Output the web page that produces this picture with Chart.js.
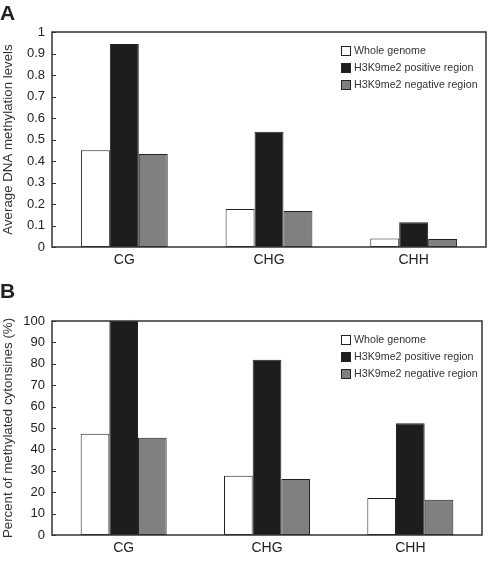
<!DOCTYPE html>
<html>
<head>
<meta charset="utf-8">
<script src="https://cdn.jsdelivr.net/npm/chart.js@4/dist/chart.umd.min.js"></script>
<style>
  body { margin: 0; background: #fff; width: 491px; height: 562px; position: relative; overflow: hidden; font-family: "Liberation Sans", Arial, sans-serif; }
  canvas { position: absolute; left: 0; }
  .panel { position: absolute; left: 0; font-weight: bold; font-size: 21px; line-height: 21px; color: #222; z-index: 2; }
</style>
</head>
<body>
<canvas id="chartA" width="491" height="275" style="top:0px"></canvas>
<canvas id="chartB" width="491" height="282" style="top:280px"></canvas>
<div class="panel" style="top:2px">A</div>
<div class="panel" style="top:280px">B</div>
<script>
const contexts = ['CG', 'CHG', 'CHH'];
const seriesNames = ['Whole genome', 'H3K9me2 positive region', 'H3K9me2 negative region'];
const seriesColors = ['#ffffff', '#1e1c1d', '#808080'];

// panel A: average methylation level
const levelWhole = [0.45, 0.177, 0.04];
const levelPositive = [0.944, 0.536, 0.115];
const levelNegative = [0.433, 0.167, 0.037];

// panel B: percent of methylated cytosines
const pctWhole = [47.3, 27.7, 17.3];
const pctPositive = [100, 81.9, 52.2];
const pctNegative = [45.5, 26.2, 16.5];

const FONT = '"Liberation Sans", Arial, sans-serif';

const frameAndLegend = {
  id: 'frameAndLegend',
  afterDraw(chart) {
    const { ctx, chartArea } = chart;
    const yScale = chart.scales.y;
    ctx.save();
    ctx.strokeStyle = '#333';
    ctx.lineWidth = 1.5;
    ctx.strokeRect(chartArea.left, chartArea.top, chartArea.right - chartArea.left, chartArea.bottom - chartArea.top);

    // short inward tick marks on the value axis
    ctx.lineWidth = 1;
    ctx.beginPath();
    yScale.ticks.forEach((t) => {
      const py = Math.round(yScale.getPixelForValue(t.value)) + 0.5;
      ctx.moveTo(chartArea.left, py);
      ctx.lineTo(chartArea.left + 4, py);
    });
    ctx.stroke();

    ctx.font = '10.7px ' + FONT;
    ctx.textBaseline = 'middle';
    chart.data.datasets.forEach((ds, i) => {
      const y = chartArea.top + 19 + i * 17;
      const x = chartArea.left + 289;
      ctx.fillStyle = ds.backgroundColor;
      ctx.fillRect(x + 0.5, y - 4.5, 9, 9);
      ctx.strokeStyle = '#222';
      ctx.strokeRect(x + 0.5, y - 4.5, 9, 9);
      ctx.fillStyle = '#333';
      ctx.fillText(ds.label, x + 13, y);
    });
    ctx.restore();
  }
};

function makeChart(id, values, yMax, step, yTitle, pad, xHeight) {
  new Chart(document.getElementById(id), {
    type: 'bar',
    data: {
      labels: contexts,
      datasets: values.map((v, i) => ({
        label: seriesNames[i],
        data: v,
        backgroundColor: seriesColors[i],
        borderColor: '#222',
        borderWidth: 1,
        borderSkipped: false,
        barPercentage: 1,
        categoryPercentage: 0.6
      }))
    },
    options: {
      responsive: false,
      devicePixelRatio: 1,
      animation: false,
      layout: { padding: pad },
      plugins: { legend: { display: false }, tooltip: { enabled: false } },
      scales: {
        x: {
          grid: { display: false, drawTicks: false },
          border: { display: false },
          ticks: { color: '#222', font: { family: FONT, size: 14 }, padding: 5 },
          afterFit(scale) { scale.height = xHeight; }
        },
        y: {
          min: 0,
          max: yMax,
          grid: { display: false, drawTicks: false },
          border: { display: false },
          ticks: {
            stepSize: step,
            color: '#222',
            font: { family: FONT, size: 13 },
            padding: 7,
            callback: (v) => String(+v.toFixed(1))
          },
          title: { display: true, text: yTitle, color: '#333', font: { family: FONT, size: 13.3 }, padding: 0 },
          afterFit(scale) { scale.width = 52; }
        }
      }
    },
    plugins: [frameAndLegend]
  });
}

makeChart('chartA', [levelWhole, levelPositive, levelNegative], 1, 0.1,
  'Average DNA methylation levels', { top: 32, right: 5, bottom: 0, left: 0 }, 28);
makeChart('chartB', [pctWhole, pctPositive, pctNegative], 100, 10,
  'Percent of methylated cytonsines (%)', { top: 41, right: 9, bottom: 0, left: 0 }, 27);
</script>
</body>
</html>
